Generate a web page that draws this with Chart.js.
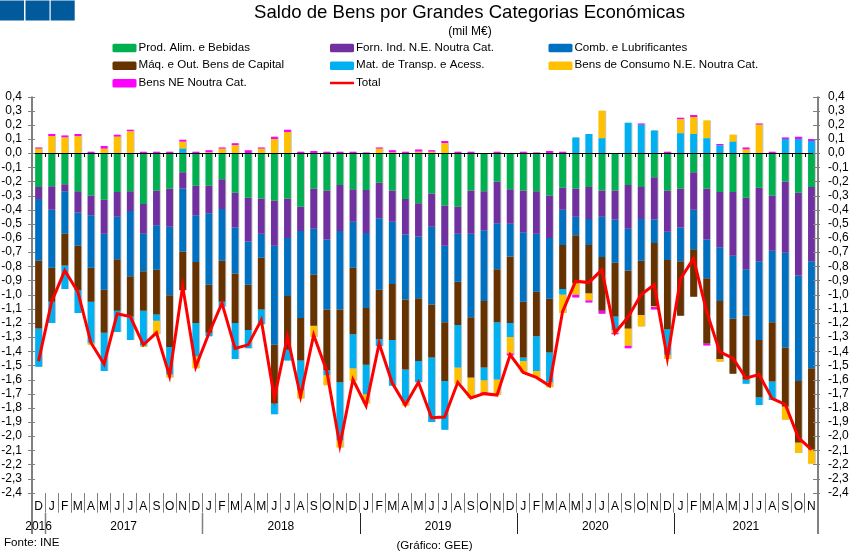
<!DOCTYPE html>
<html lang="pt">
<head>
<meta charset="utf-8">
<style>html,body{margin:0;padding:0;background:#fff}canvas{display:block}</style>
<script src="https://cdn.jsdelivr.net/npm/chart.js@4"></script>
</head>
<body>
<canvas id="c" width="851" height="554"></canvas>
<script>
const months = ["D","J","F","M","A","M","J","J","A","S","O","N","D","J","F","M","A","M","J","J","A","S","O","N","D","J","F","M","A","M","J","J","A","S","O","N","D","J","F","M","A","M","J","J","A","S","O","N","D","J","F","M","A","M","J","J","A","S","O","N"];
const yearLabels = ["2016","2017","2018","2019","2020","2021"];
const yearFirst = [0,1,13,25,37,49];
const yearLast  = [0,12,24,36,48,59];
const alim = [-.24,-.235,-.22,-.27,-.30,-.33,-.275,-.27,-.36,-.265,-.25,-.135,-.23,-.23,-.185,-.28,-.315,-.32,-.335,-.32,-.38,-.25,-.265,-.225,-.255,-.26,-.21,-.265,-.325,-.355,-.285,-.37,-.38,-.265,-.27,-.20,-.255,-.265,-.27,-.30,-.245,-.25,-.24,-.265,-.265,-.225,-.24,-.17,-.265,-.25,-.135,-.25,-.275,-.275,-.315,-.245,-.30,-.20,-.28,-.24];
const forn = [-.085,-.165,-.05,-.15,-.14,-.24,-.175,-.14,-.21,-.245,-.27,-.115,-.21,-.195,-.21,-.245,-.31,-.25,-.32,-.28,-.17,-.285,-.345,-.325,-.23,-.305,-.25,-.22,-.25,-.235,-.235,-.285,-.19,-.305,-.275,-.295,-.245,-.295,-.30,-.30,-.155,-.20,-.225,-.185,-.205,-.31,-.225,-.30,-.29,-.275,-.265,-.36,-.39,-.45,-.505,-.52,-.39,-.505,-.585,-.525];
const comb = [-.435,-.41,-.30,-.235,-.37,-.395,-.30,-.46,-.265,-.315,-.485,-.445,-.33,-.505,-.365,-.325,-.305,-.17,-.70,-.41,-.615,-.325,-.495,-.555,-.325,-.53,-.505,-.44,-.46,-.435,-.55,-.54,-.34,-.59,-.50,-.325,-.23,-.49,-.41,-.43,-.25,-.13,-.185,-.285,-.305,-.295,-.295,-.165,-.20,-.24,-.28,-.275,-.38,-.445,-.33,-.555,-.505,-.67,-.745,-.755];
const maq = [-.48,-.24,-.225,-.315,-.24,-.305,-.365,-.285,-.28,-.315,-.365,-.275,-.43,-.34,-.29,-.35,-.32,-.365,-.415,-.38,-.30,-.36,-.43,-.515,-.47,-.40,-.35,-.395,-.495,-.445,-.375,-.415,-.305,-.425,-.47,-.375,-.47,-.395,-.315,-.38,-.31,-.34,-.34,-.38,-.38,-.41,-.385,-.445,-.49,-.385,-.335,-.46,-.41,-.39,-.45,-.405,-.42,-.415,-.435,-.575];
const transp = [-.27,-.15,-.165,-.16,-.29,-.27,-.15,-.165,-.245,-.045,-.195,.03,-.235,-.025,-.035,-.255,-.13,-.105,-.075,-.075,-.21,0,-.035,-.41,-.24,-.21,-.05,-.325,-.225,-.15,-.455,-.345,-.30,0,-.09,-.405,-.10,-.025,-.245,-.21,-.04,.11,.135,.105,-.095,.215,.20,.16,-.18,.14,.135,.105,.055,.08,-.03,-.055,-.13,.10,.10,.085];
const consumo = [.03,.12,.11,.12,-.015,.03,.115,.155,-.01,-.095,-.02,.05,-.085,.005,.03,.055,0,.03,.10,.15,-.06,-.08,-.07,-.05,-.09,-.065,.03,.005,-.03,.01,.01,.07,-.115,-.145,-.085,-.11,-.115,-.08,-.045,-.035,-.13,-.08,-.05,.195,-.02,-.12,-.08,-.005,-.03,.10,.12,.125,-.02,.05,.025,.20,0,-.095,-.075,-.10];
const ne = [.01,.015,.015,.015,.01,.02,.015,.01,.01,.01,.01,.015,.01,.015,.01,.015,.02,.01,.015,.015,.01,.015,.01,.01,.01,.005,.01,.015,.01,.015,.01,.015,.01,.01,-.01,.01,-.015,.01,.005,.015,.01,-.02,-.015,-.02,-.01,-.02,.01,-.02,.01,.01,.015,-.015,.01,0,.015,.01,.01,.01,.015,.015];
const total = [-1.47,-1.05,-.83,-.98,-1.34,-1.49,-1.135,-1.155,-1.355,-1.27,-1.575,-.94,-1.51,-1.275,-1.06,-1.38,-1.355,-1.18,-1.73,-1.295,-1.72,-1.285,-1.54,-2.065,-1.60,-1.785,-1.345,-1.625,-1.78,-1.62,-1.87,-1.865,-1.62,-1.73,-1.70,-1.71,-1.425,-1.55,-1.585,-1.645,-1.12,-.905,-.915,-.825,-1.27,-1.16,-1.0,-.93,-1.45,-.89,-.745,-1.12,-1.405,-1.45,-1.59,-1.565,-1.735,-1.775,-2.01,-2.095];
const titleText = "Saldo de Bens por Grandes Categorias Económicas";
const subtitleText = "(mil M€)";
const sourceText = "Fonte: INE";
const creditText = "(Gráfico: GEE)";
const FF = '"Liberation Sans", Arial, sans-serif';
const fmt = v => (Math.abs(v) < 1e-9 ? 0 : v).toFixed(1).replace('.', ',');
const bar = (label, data, color) => ({type:'bar', label, data, backgroundColor:color, barPercentage:.52, categoryPercentage:1, borderWidth:0, order:1});

const decor = {
  id:'decor',
  beforeDatasetDraw(chart, args){
    const ctx = chart.ctx;
    ctx.save();
    if (chart.data.datasets[args.index].type === 'bar'){
      ctx.shadowColor = 'rgba(120,120,120,.4)';
      ctx.shadowOffsetX = 1; ctx.shadowOffsetY = 0; ctx.shadowBlur = 0;
    }
  },
  afterDatasetDraw(chart){ chart.ctx.restore(); },
  afterDatasetsDraw(chart){
    const {ctx, scales:{x,y}} = chart;
    const half = (x.getPixelForValue(1) - x.getPixelForValue(0)) / 2;
    const zero = y.getPixelForValue(0);
    ctx.save();
    ctx.strokeStyle = '#000'; ctx.lineWidth = 1;
    ctx.beginPath(); ctx.moveTo(x.left, Math.round(zero)+.5); ctx.lineTo(x.right, Math.round(zero)+.5);
    months.forEach((m,i)=>{ const p = Math.round(x.getPixelForValue(i)+half)+.5; ctx.moveTo(p, Math.round(zero)); ctx.lineTo(p, Math.round(zero)+4); });
    ctx.stroke();
    ctx.strokeStyle = '#808080'; ctx.lineWidth = 1;
    ctx.beginPath();
    y.ticks.forEach(t=>{ const p = Math.round(y.getPixelForValue(t.value))+.5;
      ctx.moveTo(x.left-4,p); ctx.lineTo(x.left+3,p);
      ctx.moveTo(x.right-5,p); ctx.lineTo(x.right+2,p); });
    ctx.stroke();
    ctx.lineWidth = 2;
    ctx.beginPath();
    ctx.moveTo(x.left,y.top); ctx.lineTo(x.left,534);
    ctx.moveTo(x.right,y.top); ctx.lineTo(x.right,534);
    ctx.stroke();
    ctx.font = '12px '+FF; ctx.textAlign='center'; ctx.textBaseline='middle';
    yearLabels.forEach((yl,i)=>{
      const a = x.getPixelForValue(yearFirst[i]), b = x.getPixelForValue(yearLast[i]);
      ctx.fillStyle='#000'; ctx.fillText(yl,(a+b)/2,526.5);
      if (i>0){ ctx.strokeStyle = i<=2 ? '#808080' : '#222'; ctx.lineWidth = i<=2?1.5:1;
        const p = Math.round(a-half)+.5; ctx.beginPath(); ctx.moveTo(p,513); ctx.lineTo(p,534); ctx.stroke(); }
    });
    ctx.fillStyle='#005A9C';
    [0,25.5,50.7].forEach(px=>ctx.fillRect(px,0.5,24,20));
    ctx.fillStyle='#000'; ctx.textAlign='center';
    ctx.font='18.6px '+FF; ctx.fillText(titleText,469.5,12.5);
    ctx.font='12px '+FF; ctx.fillText(subtitleText,470,32);
    ctx.font='11.6px '+FF; ctx.fillText(creditText,434.5,546);
    ctx.textAlign='left'; ctx.fillText(sourceText,4,543);
    const colX=[112.5,330,548.5], rowY=[47.8,65.5,83];
    chart.data.datasets.forEach((d,i)=>{
      const cx=colX[i%3], cy=rowY[Math.floor(i/3)];
      if(d.type==='line'){ ctx.strokeStyle=d.borderColor; ctx.lineWidth=2.5; ctx.beginPath(); ctx.moveTo(cx,cy); ctx.lineTo(cx+24,cy); ctx.stroke(); }
      else { ctx.fillStyle=d.backgroundColor; ctx.beginPath(); ctx.roundRect(cx,cy-4,24,8.4,1.5); ctx.fill(); }
      ctx.fillStyle='#000'; ctx.fillText(d.label,cx+26,cy-.3);
    });
    ctx.restore();
  }
};

new Chart(document.getElementById('c'),{
  data:{
    labels:months,
    datasets:[
      bar("Prod. Alim. e Bebidas",alim,'#00B050'),
      bar("Forn. Ind. N.E. Noutra Cat.",forn,'#7030A0'),
      bar("Comb. e Lubrificantes",comb,'#0070C0'),
      bar("Máq. e Out. Bens de Capital",maq,'#663300'),
      bar("Mat. de Transp. e Acess.",transp,'#00B0F0'),
      bar("Bens de Consumo N.E. Noutra Cat.",consumo,'#FFC000'),
      bar("Bens NE Noutra Cat.",ne,'#FF00FF'),
      {type:'line',label:"Total",data:total,borderColor:'#FF0000',backgroundColor:'#FF0000',borderWidth:3,pointRadius:0,tension:0,order:0,borderJoinStyle:'miter',stack:'t'}
    ]
  },
  options:{
    responsive:false, animation:false, devicePixelRatio:1,
    layout:{padding:{top:96.5,bottom:0,left:0,right:0}},
    plugins:{legend:{display:false},title:{display:false},tooltip:{enabled:false}},
    scales:{
      x:{stacked:true,offset:true,position:'bottom',
        afterFit:s=>{s.height=61.3;},
        grid:{offset:true,drawOnChartArea:false,tickLength:20,color:'#808080',lineWidth:1},
        border:{display:false},
        ticks:{autoSkip:false,maxRotation:0,minRotation:0,padding:-13,color:'#000',font:{family:FF,size:12}}
      },
      y:{stacked:true,min:-2.4,max:.4,position:'left',
        afterFit:s=>{s.width=32;},
        grid:{display:false,drawTicks:false},border:{display:false},
        ticks:{stepSize:.1,padding:10,color:'#000',font:{family:FF,size:12},callback:fmt,autoSkip:false}
      },
      yr:{min:-2.4,max:.4,position:'right',
        afterFit:s=>{s.width=33;},
        grid:{display:false,drawTicks:false},border:{display:false},
        ticks:{stepSize:.1,padding:10,color:'#000',font:{family:FF,size:12},callback:fmt,autoSkip:false}
      }
    }
  },
  plugins:[decor]
});
</script>
</body>
</html>
